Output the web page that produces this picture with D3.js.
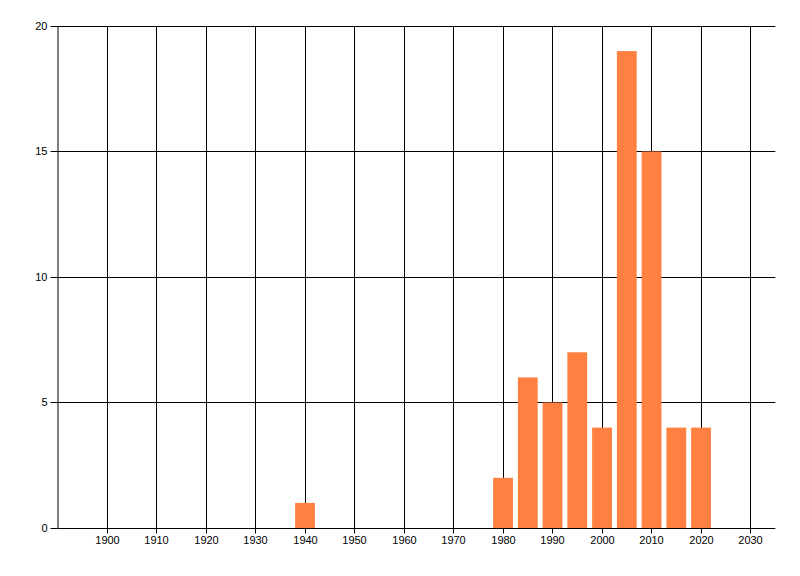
<!DOCTYPE html>
<html>
<head>
<meta charset="utf-8">
<script src="https://cdn.jsdelivr.net/npm/d3@7"></script>
<style>
  body { margin: 0; background: #fff; }
  svg { display: block; }
  .tick text { font-family: "Liberation Sans", Arial, sans-serif; font-size: 11px; fill: #000; }
</style>
</head>
<body>
<div id="chart"></div>
<script>
// Data
const years = [1940, 1980, 1985, 1990, 1995, 2000, 2005, 2010, 2015, 2020];
const counts = [1, 2, 6, 5, 7, 4, 19, 15, 4, 4];
const xTicks = [1900, 1910, 1920, 1930, 1940, 1950, 1960, 1970, 1980, 1990, 2000, 2010, 2020, 2030];
const yTicks = [0, 5, 10, 15, 20];

const data = years.map((y, i) => ({ year: y, count: counts[i] }));

const width = 800;
const height = 576;

const xScale = d3.scaleLinear()
    .domain([1890, 2035])
    .range([57.5, 775.3]);

const yScale = d3.scaleLinear()
    .domain([0, 20])
    .range([528, 26]);

// snap to pixel centre
const px = v => Math.floor(v) + 0.5;

const svg = d3.select("#chart")
    .append("svg")
    .attr("width", width)
    .attr("height", height);

// vertical grid lines
svg.append("g")
    .selectAll("line")
    .data(xTicks)
    .join("line")
    .attr("x1", d => px(xScale(d)))
    .attr("x2", d => px(xScale(d)))
    .attr("y1", px(yScale(20)))
    .attr("y2", px(yScale(0)))
    .attr("stroke", "#000")
    .attr("stroke-width", 1);

// horizontal grid lines
svg.append("g")
    .selectAll("line")
    .data(yTicks)
    .join("line")
    .attr("x1", px(xScale(1890)))
    .attr("x2", xScale(2035))
    .attr("y1", d => px(yScale(d)))
    .attr("y2", d => px(yScale(d)))
    .attr("stroke", "#000")
    .attr("stroke-width", 1);

// bars
const barW = xScale(4) - xScale(0);
svg.append("g")
    .selectAll("rect")
    .data(data)
    .join("rect")
    .attr("x", d => xScale(d.year) - barW / 2)
    .attr("width", barW)
    .attr("y", d => yScale(d.count))
    .attr("height", d => yScale(0) - yScale(d.count))
    .attr("fill", "#ff8040");

// x axis
const xAxis = svg.append("g")
    .attr("transform", `translate(0,${px(yScale(0))})`)
    .call(d3.axisBottom(xScale)
        .tickValues(xTicks)
        .tickFormat(d3.format("d"))
        .tickSize(5)
        .tickPadding(3)
        .tickSizeOuter(0));
xAxis.select(".domain").remove();
xAxis.selectAll(".tick").attr("transform", d => `translate(${px(xScale(d))},0)`);
xAxis.selectAll(".tick line").attr("stroke", "#000");

// y axis
const yAxis = svg.append("g")
    .attr("transform", `translate(${px(xScale(1890))},0)`)
    .call(d3.axisLeft(yScale)
        .tickValues(yTicks)
        .tickSize(7)
        .tickPadding(3)
        .tickSizeOuter(0));
yAxis.select(".domain").attr("stroke", "#000");
yAxis.selectAll(".tick").attr("transform", d => `translate(0,${px(yScale(d))})`);
yAxis.selectAll(".tick line").attr("stroke", "#000");
</script>
</body>
</html>
